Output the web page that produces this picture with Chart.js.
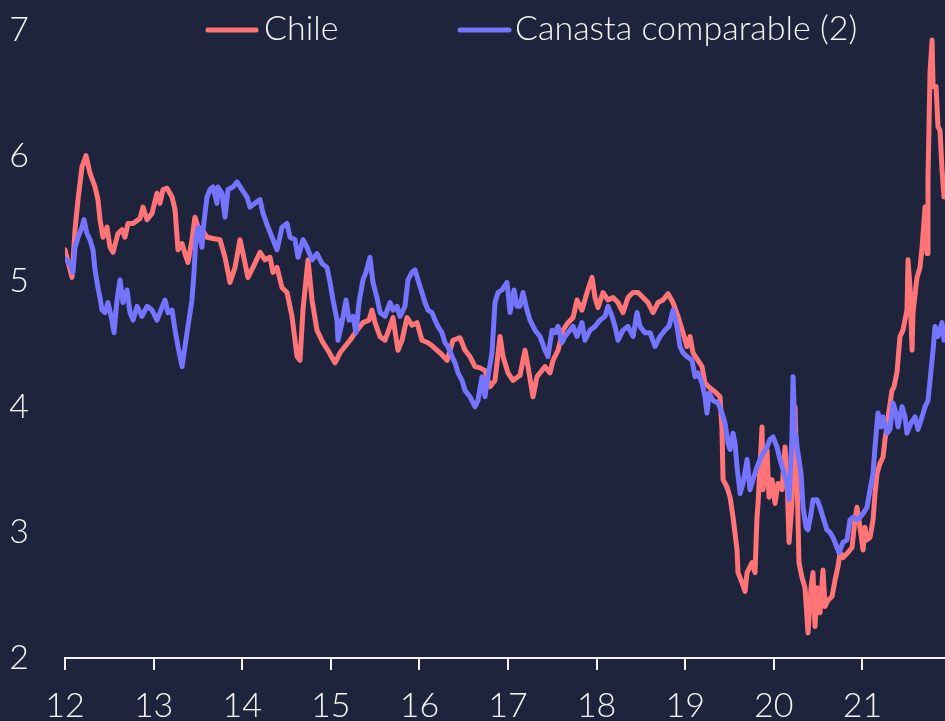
<!DOCTYPE html>
<html>
<head>
<meta charset="utf-8">
<script src="https://cdn.jsdelivr.net/npm/chart.js@4.4.1/dist/chart.umd.min.js"></script>
<style>
  html, body { margin: 0; padding: 0; background: #1f243d; }
  #wrap { width: 945px; height: 721px; position: relative; }
</style>
</head>
<body>
<div id="wrap"><canvas id="c"></canvas></div>
<script>
// ---- Data (x in years, 12 = 2012) ----
const seriesNames = ['Chile', 'Canasta comparable (2)'];
const xTickValues = [12, 13, 14, 15, 16, 17, 18, 19, 20, 21];
const yTickValues = [2, 3, 4, 5, 6, 7];

const chileYears = [
12.000,12.079,12.113,12.147,12.192,12.237,12.282,12.339,12.372,12.395,12.429,12.474,12.508,12.542,12.598,12.643,12.677,12.711,12.768,12.847,12.880,12.926,12.982,
13.038,13.072,13.106,13.151,13.208,13.242,13.275,13.321,13.354,13.388,13.433,13.467,13.501,13.546,13.603,13.670,13.749,13.806,13.862,13.919,13.975,
14.009,14.065,14.122,14.201,14.257,14.314,14.348,14.393,14.449,14.506,14.562,14.619,14.652,14.686,14.743,14.788,14.844,14.912,14.968,
15.047,15.104,15.160,15.217,15.296,15.363,15.431,15.465,15.499,15.555,15.612,15.668,15.702,15.758,15.804,15.860,15.916,15.973,
16.029,16.097,16.153,16.233,16.312,16.379,16.458,16.515,16.571,16.628,16.684,16.740,16.797,16.853,16.910,16.944,
17.000,17.056,17.113,17.135,17.192,17.226,17.282,17.327,17.384,17.418,17.474,17.508,17.564,17.621,17.677,17.734,17.779,17.835,17.892,17.948,17.982,
18.016,18.072,18.129,18.185,18.242,18.298,18.354,18.411,18.467,18.524,18.580,18.637,18.693,18.749,18.806,18.862,18.919,18.975,
19.020,19.054,19.088,19.144,19.190,19.223,19.280,19.336,19.393,19.415,19.427,19.472,19.506,19.540,19.585,19.596,19.641,19.675,19.698,19.754,19.788,19.810,19.822,19.867,19.878,19.923,19.946,19.980,
20.014,20.047,20.093,20.126,20.149,20.172,20.205,20.239,20.262,20.284,20.318,20.352,20.386,20.420,20.442,20.465,20.488,20.521,20.555,20.578,20.612,20.657,20.691,20.725,20.747,20.781,20.837,20.883,20.916,20.939,20.973,
21.007,21.029,21.052,21.086,21.120,21.142,21.165,21.199,21.233,21.255,21.278,21.300,21.334,21.357,21.391,21.424,21.458,21.503,21.515,21.537,21.560,21.571,21.616,21.650,21.673,21.707,21.729,21.740,21.763,21.786,21.797,21.831,21.853,21.876,21.898,21.921
];
const chileValues = [
5.25,5.03,5.41,5.65,5.91,6.00,5.86,5.75,5.65,5.49,5.35,5.43,5.27,5.23,5.38,5.41,5.35,5.46,5.46,5.50,5.59,5.49,5.54,
5.70,5.62,5.73,5.74,5.67,5.57,5.25,5.30,5.22,5.15,5.33,5.51,5.43,5.41,5.35,5.34,5.33,5.19,4.99,5.11,5.33,
5.22,5.03,5.11,5.23,5.17,5.19,5.07,5.11,4.95,4.91,4.72,4.40,4.37,4.77,5.17,4.85,4.61,4.51,4.45,
4.35,4.43,4.48,4.53,4.61,4.67,4.69,4.77,4.67,4.56,4.53,4.64,4.71,4.45,4.53,4.71,4.65,4.67,
4.53,4.51,4.48,4.43,4.37,4.53,4.55,4.45,4.40,4.32,4.31,4.29,4.16,4.21,4.56,4.40,
4.27,4.21,4.24,4.25,4.45,4.32,4.08,4.24,4.29,4.32,4.27,4.37,4.45,4.61,4.67,4.71,4.85,4.77,4.91,5.03,4.87,
4.79,4.91,4.85,4.87,4.83,4.75,4.87,4.91,4.91,4.87,4.83,4.75,4.83,4.85,4.90,4.83,4.72,4.59,
4.48,4.56,4.43,4.37,4.32,4.19,4.15,4.12,4.08,3.82,3.42,3.36,3.28,3.12,2.86,2.68,2.60,2.53,2.68,2.76,2.68,3.12,3.23,3.84,3.34,3.66,3.28,3.42,
3.23,3.39,3.34,3.68,3.44,2.92,3.23,4.00,3.44,2.76,2.64,2.56,2.20,2.56,2.68,2.25,2.56,2.36,2.70,2.41,2.46,2.49,2.62,2.73,2.84,2.80,2.84,2.88,3.10,3.20,3.04,
2.86,3.04,2.94,2.96,3.10,3.31,3.47,3.55,3.60,3.74,3.84,3.97,4.13,4.16,4.28,4.56,4.61,4.77,5.17,4.95,4.45,4.75,5.03,5.11,5.27,5.59,5.22,5.81,6.66,6.92,6.55,6.55,6.23,6.20,5.89,5.67
];

const canastaYears = [
12.000,12.056,12.090,12.113,12.147,12.192,12.214,12.248,12.282,12.316,12.339,12.372,12.395,12.418,12.451,12.485,12.530,12.553,12.587,12.621,12.655,12.700,12.734,12.768,12.813,12.869,12.926,12.982,
13.038,13.072,13.129,13.163,13.208,13.242,13.275,13.321,13.354,13.388,13.433,13.456,13.478,13.501,13.546,13.558,13.603,13.637,13.670,13.715,13.727,13.772,13.806,13.840,13.896,13.941,13.997,
14.054,14.088,14.144,14.201,14.235,14.291,14.348,14.393,14.449,14.506,14.540,14.596,14.630,14.686,14.731,14.788,14.844,14.901,14.957,14.991,
15.025,15.070,15.081,15.126,15.172,15.206,15.251,15.284,15.318,15.363,15.397,15.442,15.476,15.521,15.555,15.612,15.668,15.702,15.747,15.781,15.837,15.871,15.916,15.950,15.984,
16.029,16.063,16.097,16.142,16.176,16.210,16.255,16.289,16.323,16.368,16.402,16.436,16.481,16.515,16.571,16.628,16.661,16.707,16.740,16.774,16.819,16.853,16.887,16.932,16.989,
17.023,17.068,17.102,17.135,17.169,17.214,17.248,17.305,17.361,17.418,17.451,17.497,17.531,17.564,17.609,17.643,17.677,17.734,17.779,17.835,17.869,17.926,17.982,
18.038,18.095,18.129,18.174,18.208,18.242,18.298,18.354,18.411,18.456,18.490,18.546,18.603,18.659,18.716,18.772,18.817,18.862,18.907,18.941,18.975,
19.020,19.077,19.111,19.144,19.190,19.223,19.246,19.269,19.314,19.370,19.415,19.449,19.483,19.506,19.540,19.562,19.585,19.619,19.652,19.698,19.731,19.765,19.810,19.844,19.878,19.923,19.957,19.991,
20.036,20.070,20.104,20.149,20.172,20.205,20.217,20.239,20.251,20.262,20.307,20.330,20.364,20.386,20.420,20.442,20.488,20.521,20.555,20.600,20.634,20.668,20.713,20.736,20.781,20.826,20.860,20.894,20.939,20.973,
21.007,21.052,21.086,21.120,21.142,21.165,21.176,21.210,21.233,21.278,21.311,21.345,21.379,21.402,21.447,21.481,21.503,21.548,21.594,21.627,21.673,21.707,21.740,21.763,21.797,21.820,21.853,21.898,21.921
];
const canastaValues = [
5.18,5.14,5.07,5.27,5.35,5.43,5.49,5.38,5.33,5.25,5.09,4.95,4.87,4.77,4.75,4.83,4.69,4.59,4.85,5.01,4.83,4.93,4.75,4.69,4.80,4.72,4.80,4.77,
4.69,4.75,4.85,4.75,4.77,4.61,4.48,4.32,4.48,4.64,4.85,5.07,5.35,5.43,5.27,5.41,5.67,5.73,5.75,5.62,5.75,5.70,5.51,5.73,5.75,5.79,5.73,
5.67,5.59,5.62,5.65,5.54,5.43,5.33,5.25,5.43,5.46,5.35,5.33,5.19,5.33,5.27,5.17,5.22,5.14,5.11,4.99,
4.85,4.69,4.53,4.67,4.85,4.69,4.72,4.59,4.83,5.01,5.07,5.19,4.99,4.87,4.75,4.72,4.83,4.77,4.80,4.72,4.80,5.01,5.07,5.09,5.01,
4.91,4.83,4.77,4.75,4.69,4.64,4.59,4.51,4.48,4.40,4.35,4.27,4.21,4.13,4.08,4.00,4.05,4.24,4.08,4.24,4.43,4.83,4.91,4.93,4.99,
4.75,4.93,4.80,4.80,4.91,4.77,4.69,4.61,4.56,4.45,4.40,4.61,4.59,4.64,4.51,4.56,4.59,4.64,4.56,4.67,4.53,4.61,4.64,
4.69,4.72,4.80,4.72,4.64,4.53,4.61,4.64,4.56,4.75,4.64,4.59,4.59,4.48,4.56,4.61,4.64,4.77,4.64,4.48,4.43,
4.40,4.37,4.24,4.27,4.19,4.08,3.95,4.11,4.05,4.03,3.95,3.87,3.71,3.66,3.79,3.71,3.52,3.31,3.39,3.58,3.34,3.42,3.52,3.58,3.63,3.68,3.74,3.76,
3.68,3.58,3.50,3.39,3.26,3.76,4.24,3.79,3.76,3.68,3.47,3.20,3.04,3.02,3.15,3.26,3.26,3.20,3.12,3.02,3.00,2.96,2.88,2.84,2.92,2.94,3.10,3.12,3.10,3.12,
3.15,3.20,3.34,3.47,3.68,3.87,3.95,3.84,3.92,3.79,3.82,4.03,3.95,3.84,4.00,3.92,3.79,3.87,3.92,3.82,3.92,4.00,4.05,4.21,4.45,4.64,4.56,4.67,4.53
];

const xMin = 12, xMax = 21.932, yMin = 2, yMax = 7;

// ---- Style ----
const BG = '#1f243d';
const RED = '#ff7577';
const BLUE = '#7474ff';
const TXT = '#f4f4f4';
const FONT_FAMILY = 'Lato, "Open Sans", sans-serif';

function pts(xs, ys) { return xs.map((x, i) => ({ x: x, y: ys[i] })); }

const bgPlugin = {
  id: 'bg',
  beforeDraw(chart) {
    const ctx = chart.ctx;
    ctx.save();
    ctx.fillStyle = BG;
    ctx.fillRect(0, 0, chart.width, chart.height);
    ctx.restore();
  }
};

const legendPlugin = {
  id: 'topLegend',
  afterDraw(chart) {
    const ctx = chart.ctx;
    const items = [
      { ds: 0, x1: 208, x2: 256, tx: 264 },
      { ds: 1, x1: 460, x2: 509, tx: 515 }
    ];
    const cy = 30;
    ctx.save();
    ctx.font = '300 34px ' + FONT_FAMILY;
    ctx.textBaseline = 'middle';
    ctx.textAlign = 'left';
    items.forEach(it => {
      const ds = chart.data.datasets[it.ds];
      ctx.strokeStyle = ds.borderColor;
      ctx.lineWidth = 5;
      ctx.lineCap = 'round';
      ctx.beginPath();
      ctx.moveTo(it.x1, cy);
      ctx.lineTo(it.x2, cy);
      ctx.stroke();
      ctx.fillStyle = TXT;
      ctx.fillText(ds.label, it.tx, cy - 1);
    });
    ctx.restore();
  }
};

new Chart(document.getElementById('c'), {
  type: 'line',
  data: {
    datasets: [
      {
        label: seriesNames[0],
        data: pts(chileYears, chileValues),
        borderColor: RED,
        backgroundColor: RED,
        borderWidth: 5,
        pointRadius: 0,
        tension: 0,
        borderJoinStyle: 'round',
        borderCapStyle: 'round',
        order: 1
      },
      {
        label: seriesNames[1],
        data: pts(canastaYears, canastaValues),
        borderColor: BLUE,
        backgroundColor: BLUE,
        borderWidth: 5,
        pointRadius: 0,
        tension: 0,
        borderJoinStyle: 'round',
        borderCapStyle: 'round',
        order: 0
      }
    ]
  },
  options: {
    responsive: true,
    maintainAspectRatio: false,
    animation: false,
    layout: { padding: { top: 30, right: 0, left: 0, bottom: 0 } },
    plugins: {
      legend: { display: false },
      tooltip: { enabled: false }
    },
    scales: {
      x: {
        type: 'linear',
        min: xMin,
        max: xMax,
        afterBuildTicks: s => { s.ticks = xTickValues.map(v => ({ value: v })); },
        afterFit: s => { s.height = 63; s.paddingLeft = 0; s.paddingRight = 0; },
        grid: {
          display: true,
          drawOnChartArea: false,
          drawTicks: true,
          tickLength: 12,
          color: TXT,
          lineWidth: 2
        },
        border: { display: true, color: TXT, width: 2 },
        ticks: {
          color: TXT,
          font: { family: FONT_FAMILY, size: 34, weight: '300' },
          padding: 16,
          maxRotation: 0,
          autoSkip: false,
          callback: v => String(v)
        }
      },
      y: {
        type: 'linear',
        min: yMin,
        max: yMax,
        afterBuildTicks: s => { s.ticks = yTickValues.map(v => ({ value: v })); },
        afterFit: s => { s.width = 65; s.paddingTop = 0; s.paddingBottom = 0; },
        grid: { display: false, drawTicks: false },
        border: { display: false },
        ticks: {
          color: TXT,
          font: { family: FONT_FAMILY, size: 34, weight: '300' },
          padding: 36,
          callback: v => String(v)
        }
      }
    }
  },
  plugins: [bgPlugin, legendPlugin]
});
</script>
</body>
</html>
